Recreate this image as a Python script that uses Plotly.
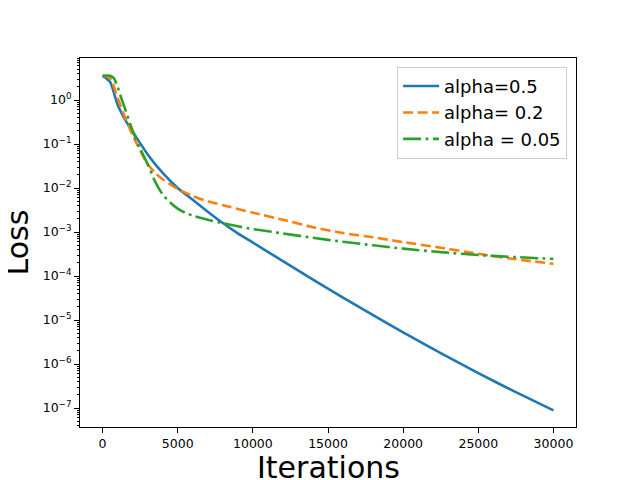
import plotly.graph_objects as go

# 迭代次数与损失
iter_blue = [0, 500, 1000, 1500, 2000, 2500, 3000, 4000, 5000, 6000, 7000, 8000, 9000,
             10000, 12000, 14000, 16000, 18000, 20000, 22500, 25000, 27500, 30000]
loss_blue = [3.55, 2.6, 0.78, 0.36, 0.19, 0.105, 0.058, 0.022, 0.010, 5.4e-3, 2.9e-3, 1.6e-3, 9.3e-4,
             5.75e-4, 2.19e-4, 8.3e-5, 3.24e-5, 1.29e-5, 5.25e-6, 1.78e-6, 6.2e-7, 2.3e-7, 8.9e-8]

iter_orange = [0, 500, 1000, 1500, 2000, 2500, 3000, 3500, 4000, 5000, 6000, 7000, 8500,
               10000, 12000, 14000, 16000, 18000, 20000, 22500, 25000, 27500, 30000]
loss_orange = [3.55, 3.16, 1.12, 0.40, 0.16, 0.071, 0.035, 0.022, 0.0158, 0.0095, 6.6e-3, 5.0e-3, 3.7e-3,
               2.75e-3, 1.9e-3, 1.29e-3, 9.5e-4, 7.6e-4, 5.9e-4, 4.4e-4, 3.2e-4, 2.4e-4, 1.9e-4]

iter_green = [0, 500, 750, 1000, 1250, 1500, 2000, 2500, 3000, 3500, 4000, 4500, 5000, 5500,
              6000, 7000, 8000, 9000, 10000, 12000, 14000, 16000, 18000, 20000, 22500, 25000, 27500, 30000]
loss_green = [3.55, 3.55, 3.16, 2.0, 1.1, 0.63, 0.20, 0.079, 0.035, 0.014, 7.1e-3, 4.7e-3, 3.4e-3, 2.75e-3,
              2.35e-3, 1.9e-3, 1.58e-3, 1.35e-3, 1.17e-3, 9.3e-4, 7.4e-4, 6.0e-4, 5.0e-4, 4.2e-4,
              3.5e-4, 3.0e-4, 2.7e-4, 2.45e-4]

x_ticks = [0, 5000, 10000, 15000, 20000, 25000, 30000]
x_ticktext = ['0', '5000', '10000', '15000', '20000', '25000', '30000']
y_ticks = [1, 1e-1, 1e-2, 1e-3, 1e-4, 1e-5, 1e-6, 1e-7]
y_ticktext = ['10<sup>0</sup>', '10<sup>−1</sup>', '10<sup>−2</sup>', '10<sup>−3</sup>',
              '10<sup>−4</sup>', '10<sup>−5</sup>', '10<sup>−6</sup>', '10<sup>−7</sup>']

fig = go.Figure()

fig.add_trace(go.Scatter(x=iter_blue, y=loss_blue, mode='lines', name='alpha=0.5',
                         line=dict(color='#1f77b4', width=2.6, shape='spline', smoothing=0.6)))
fig.add_trace(go.Scatter(x=iter_orange, y=loss_orange, mode='lines', name='alpha= 0.2',
                         line=dict(color='#ff7f0e', width=2.6, dash='10px,4.5px',
                                   shape='spline', smoothing=0.6)))
fig.add_trace(go.Scatter(x=iter_green, y=loss_green, mode='lines', name='alpha = 0.05',
                         line=dict(color='#2ca02c', width=2.6, dash='18px,4.5px,2.8px,4.5px',
                                   shape='spline', smoothing=0.6)))

# 页面有 8px 的边距，所以这里整体往左上挪一点
fig.update_layout(
    width=640, height=480,
    margin=dict(l=72, r=72, t=50, b=61),
    paper_bgcolor='white', plot_bgcolor='white',
    font=dict(family='DejaVu Sans', color='black', size=12.5),
    legend=dict(x=0.982, y=0.976, xanchor='right', yanchor='top',
                bordercolor='#cccccc', borderwidth=1, bgcolor='white',
                font=dict(size=18), tracegroupgap=0, itemwidth=36),
)

fig.update_xaxes(
    range=[-1500, 31500], tickmode='array', tickvals=x_ticks, ticktext=x_ticktext,
    ticks='outside', ticklen=5, tickwidth=1, automargin=False,
    tickcolor='black', showline=True, linecolor='black', linewidth=1, mirror=True,
    showgrid=False, zeroline=False,
)
fig.update_yaxes(
    type='log', range=[-7.43, 0.955], tickmode='array', tickvals=y_ticks, ticktext=y_ticktext,
    ticks='outside', ticklen=5, tickwidth=1, tickcolor='black', automargin=False,
    minor=dict(ticks='outside', ticklen=2.5, tickcolor='black', dtick='D1', showgrid=False),
    showline=True, linecolor='black', linewidth=1, mirror=True,
    showgrid=False, zeroline=False,
)

# 轴标题用注释放，位置好控制
fig.add_annotation(text='Iterations', xref='paper', yref='paper', x=0.5, y=-0.111,
                   xanchor='center', yanchor='middle', showarrow=False, font=dict(size=30))
fig.add_annotation(text='Loss', xref='paper', yref='paper', x=-0.127, y=0.5, textangle=-90,
                   xanchor='center', yanchor='middle', showarrow=False, font=dict(size=30))

fig.write_html("out.html")
